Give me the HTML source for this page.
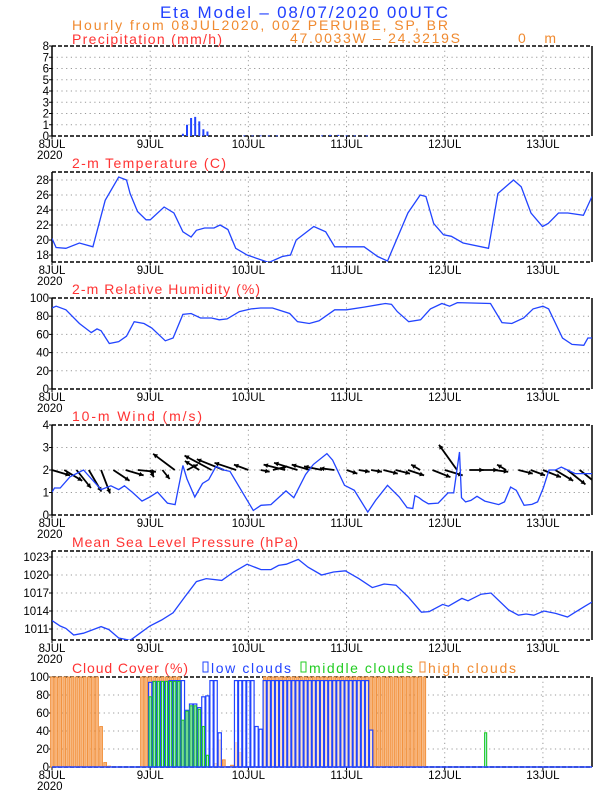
<!DOCTYPE html>
<html><head><meta charset="utf-8"><style>
html,body{margin:0;padding:0;background:#fff;}
svg{display:block;}
text{font-family:"Liberation Sans",sans-serif;}
</style></head><body>
<svg id="chart" width="612" height="792" viewBox="0 0 612 792" xmlns="http://www.w3.org/2000/svg">
<text x="160" y="18" textLength="288" lengthAdjust="spacing" font-size="17" fill="#2040ff">Eta Model – 08/07/2020 00UTC</text>
<text x="72" y="30" textLength="376" lengthAdjust="spacing" font-size="14" fill="#f08a30">Hourly from 08JUL2020, 00Z  PERUIBE, SP, BR</text>
<text x="290" y="43" textLength="170" lengthAdjust="spacing" font-size="14" fill="#f08a30">47.0033W – 24.3219S</text>
<text x="518" y="43" textLength="38" lengthAdjust="spacing" font-size="14" fill="#f08a30">0  m</text>
</svg>
<script>
// ---- data ----
const dayLabels=["8JUL","9JUL","10JUL","11JUL","12JUL","13JUL"];
const precipHours=[32,33,34,35,36,37,38,47,49,51,53,55,66,68,70,72,74,77];
const precipVals=[0.2,1.0,1.6,1.7,1.3,0.6,0.4,0.05,0.05,0.05,0.05,0.05,0.05,0.1,0.1,0.05,0.05,0.05];
const precipTicks=[0,1,2,3,4,5,6,7,8];
const tempHours=[0,1,3.4,6.7,10,13,16.3,18.2,19.1,20.9,23,24,27.4,29.8,32,34,35.3,37.3,39.6,41.1,43,44.9,47.7,53,56.3,58.3,59.7,64,66.9,69.1,72,76.3,79.6,82,87,90,91.4,93.3,95.7,97.6,100.5,106.7,109,112.8,114.7,117.1,119.9,121.3,123.8,126.1,129.9,132];
const tempVals=[20.2,19.0,18.9,19.6,19.1,25.3,28.4,28.0,26.2,23.8,22.7,22.7,24.4,23.6,21.1,20.4,21.3,21.6,21.6,22.0,21.4,18.9,18.0,17.0,17.8,18.0,20.0,21.8,21.1,19.1,19.1,19.1,17.8,17.2,23.6,26.0,25.8,22.2,20.7,20.5,19.6,18.9,26.2,28.0,27.1,23.6,21.8,22.2,23.6,23.6,23.3,25.8];
const tempTicks=[18,20,22,24,26,28];
const rhHours=[0,1,3.4,6.7,9.6,11,12,14,16.3,18.2,20.1,22.5,24.4,27.7,29.6,32,34,36.3,39,40.9,42.8,45.8,48.7,51,53.9,58.1,60,62.9,65.3,69.1,72,76.3,81.5,83,84.4,87.2,90.1,92.5,95.3,97.2,99.1,107.2,110,112.4,115.3,117.6,120,121.4,124.8,127.1,130,131,132];
const rhVals=[89,91,87,72,62,66,64,50,52,58,74,72,67,53,56,82,83,78,78,76,77,85,88,89,89,83,74,72,75,87,87,90,94,93,85,74,76,88,94,91,95,94,73,72,78,88,91,88,56,49,48,56,56];
const rhTicks=[0,20,40,60,80,100];
const windHours=[0,0.6,2,4.4,7.7,12,14.4,16.3,17.7,19.6,22,23.9,25.8,28.2,30.1,32,33,34.9,36.8,38.3,40.1,42,43.5,49.2,51.1,53.5,57.2,59.1,62,63.9,67.2,68.6,71.5,73.9,77.2,79.1,82,84.9,86.8,88.2,88.7,89.7,90.6,92,94.4,96.8,98.2,99.6,100.1,101.1,102.4,103.9,105.8,109.2,110.6,112.1,113.5,115.4,117.3,118.7,120.1,121.5,123.1,124.5,127.9,133.1];
const windVals=[1.02,1.2,1.2,1.7,2.0,1.13,1.3,1.13,1.3,1.02,0.62,0.8,1.02,0.53,0.46,2.2,1.6,0.8,1.4,1.57,2.16,2.0,1.94,0.2,0.43,0.46,1.07,0.77,1.8,2.25,2.73,2.44,1.32,1.1,0.13,0.65,1.32,0.8,0.33,0.29,0.86,0.77,0.65,0.5,0.53,0.98,0.98,2.8,0.77,0.58,0.65,0.83,0.62,0.46,0.58,1.24,1.1,0.43,0.47,0.58,1.2,2.0,2.0,2.13,1.84,1.84];
const windTicks=[0,1,2,3,4];
const arrowHours=[0,3,6,9,12,15,18,21,24,27,30,33,36,39,42,45,48,51,54,57,60,63,66,69,72,75,78,81,84,87,90,93,96,99,102,105,108,111,114,117,120,123,126,129,132];
const arrowU=[1.0,1.0,0.8,0.7,0.5,0.9,1.0,1.0,0.2,0.4,-1.2,0.6,-0.8,-1.5,-1.5,-1.2,-0.8,0.5,0.8,-1.2,-1.3,-1.0,-1.0,-0.8,0.6,0.6,0.6,0.8,0.8,0.9,-0.5,1.0,1.0,-1.0,0.8,0.9,0.8,-0.5,0.8,0.8,1.0,1.0,1.0,1.0,1.0];
const arrowV=[-0.3,-0.6,-1.0,-1.2,-1.3,-0.6,-0.3,-0.1,-0.4,-0.5,0.9,0.3,0.5,0.8,0.6,0.4,0.3,-0.1,0.2,0.3,0.4,0.3,0.2,0.1,-0.2,-0.1,-0.1,-0.2,-0.2,-0.3,0.3,-0.4,-0.3,1.4,0.0,0.0,-0.1,0.3,-0.2,-0.3,-0.4,-0.6,-0.8,-0.8,-0.8];
const presHours=[0,2,3.4,5.3,7.7,12,13.9,16.3,19.1,21.5,23.9,26.8,29.6,32.5,35.3,37.7,41.5,44.4,47.7,51.1,53.5,55.4,57.3,60.2,62.6,65.9,68.8,71.7,75,78.3,81.2,84.1,87,90.3,92.2,95.5,96.9,100.2,101.7,104.9,107.3,111.6,114,115.9,117.8,120.2,123.1,126,127.9,130.3,132];
const presVals=[1012.4,1011.5,1011.1,1010.0,1010.3,1011.4,1010.9,1009.5,1009.1,1010.3,1011.5,1012.5,1013.7,1016.4,1018.9,1019.4,1019.1,1020.5,1021.8,1020.9,1020.9,1021.6,1021.8,1022.6,1021.3,1020.0,1020.5,1020.7,1019.4,1017.9,1018.5,1018.3,1016.4,1013.8,1013.9,1015.1,1014.8,1016.1,1015.7,1016.8,1017.0,1014.2,1013.3,1013.5,1013.3,1014.0,1013.6,1013.0,1013.8,1014.8,1015.5];
const presTicks=[1011,1014,1017,1020,1023];
const cloudHigh=[100,100,100,100,100,100,100,100,100,100,100,100,45,5,1,0,0,0,0,0,0,0,100,100,100,100,100,100,100,100,100,100,0,0,0,0,0,0,0,0,4,30,8,0,2,27,16,0,0,0,0,0,100,100,100,100,100,100,100,100,100,100,100,100,100,100,100,100,100,100,100,100,100,100,100,100,100,100,100,100,100,100,100,100,100,100,100,100,100,100,100,100,0,0,0,0,0,0,0,0,0,0,0,0,0,0,0,0,0,0,0,0,0,0,0,0,0,0,0,0,0,0,0,0,0,0,0,0,0,0,0,0,0];
const cloudLow=[0,0,0,0,0,0,0,0,0,0,0,0,0,0,0,0,0,0,0,0,0,0,0,0,94,95,95,95,95,96,96,96,96,63,70,70,66,78,79,96,96,38,0,0,0,96,96,96,96,96,45,42,96,96,96,96,96,96,96,96,96,96,96,96,96,96,96,96,96,96,96,96,96,96,96,96,96,96,41,0,0,0,0,0,0,0,0,0,0,0,0,0,0,0,0,0,0,0,0,0,0,0,0,0,0,0,0,0,0,0,0,0,0,0,0,0,0,0,0,0,0,0,0,0,0,0,0,0,0,0,0,0,0];
const cloudMid=[0,0,0,0,0,0,0,0,0,0,0,0,0,0,0,0,0,0,0,0,0,0,0,0,78,95,95,95,95,95,95,95,52,62,68,68,64,45,13,0,0,0,0,0,0,0,0,0,0,0,0,0,0,0,0,0,0,0,0,0,0,0,0,0,0,0,0,0,0,0,0,0,0,0,0,0,0,0,0,0,0,0,0,0,0,0,0,0,0,0,0,0,0,0,0,0,0,0,0,0,0,0,0,0,0,0,38,0,0,0,0,0,0,0,0,0,0,0,0,0,0,0,0,0,0,0,0,0,0,0,0,0,0];
const cloudTicks=[0,20,40,60,80,100];

// ---- layout ----
const NS="http://www.w3.org/2000/svg";
const svg=document.getElementById('chart');
const X0=52,X1=592,HMAX=132;
function xs(h){return X0+(X1-X0)*h/HMAX;}
function mk(tag,attrs,parent){const e=document.createElementNS(NS,tag);for(const k in attrs)e.setAttribute(k,attrs[k]);(parent||svg).appendChild(e);return e;}
const BLUE="#2244ff",RED="#ff3333",ORANGE="#f08a30";

function panel(name,title,titleLen,top,bot,ymin,ymax,ticks){
  const g=mk('g',{});
  
  
  const ys=v=>bot-(bot-top)*(v-ymin)/(ymax-ymin);
  if(title){const t=mk('text',{x:72,y:top-4,'font-size':14,fill:RED,textLength:titleLen,lengthAdjust:'spacing'},g);t.textContent=title;
  
  }
  ticks.forEach(v=>{const y=ys(v);if(y>top+1&&y<bot-1){const l=mk('line',{x1:X0,x2:X1,y1:y,y2:y,stroke:'#999','stroke-dasharray':'1.2 3.5','stroke-width':1},g);
    }
    const lb=mk('text',{x:X0-3,y:y+4,'font-size':11.5,'text-anchor':'end',fill:'#000'},g);lb.textContent=v;
    
    mk('line',{x1:X0-3,x2:X0,y1:y,y2:y,stroke:'#000'},g);});
  dayLabels.forEach((d,i)=>{const x=xs(i*24);
    if(i>0){const l=mk('line',{x1:x,x2:x,y1:top,y2:bot,stroke:'#999','stroke-dasharray':'1.2 3.5'},g);
      }
    mk('line',{x1:x,x2:x,y1:bot,y2:bot+3,stroke:'#000'},g);
    const lb=mk('text',{x:x,y:bot+12,'font-size':11.5,'text-anchor':'middle',fill:'#000'},g);lb.textContent=d;
    });
  const yr=mk('text',{x:37,y:bot+23,'font-size':11.5,fill:'#000'},g);yr.textContent='2020';
  
  const fr=mk('g',{},g);
  mk('line',{x1:X0,x2:X0,y1:top,y2:bot,stroke:'#000','stroke-width':1.5},fr);
  mk('line',{x1:X1,x2:X1,y1:top,y2:bot,stroke:'#000','stroke-width':1.5},fr);
  mk('line',{x1:X0,x2:X1,y1:top,y2:top,stroke:'#000','stroke-width':1.5,'stroke-dasharray':'4 2'},fr);
  mk('line',{x1:X0,x2:X1,y1:bot,y2:bot,stroke:'#000','stroke-width':1.5,'stroke-dasharray':'4 2'},fr);
  
  return {g,ys};
}
function line(g,ys,hours,vals,name,top,bot){
  const cid='clip-'+name;
  const cp=mk('clipPath',{id:cid},g);mk('rect',{x:X0,y:top,width:X1-X0,height:bot-top},cp);
  const p=mk('path',{d:hours.map((h,i)=>(i?'L':'M')+xs(h).toFixed(1)+','+ys(vals[i]).toFixed(1)).join(''),fill:'none',stroke:BLUE,'stroke-width':1.3,'clip-path':'url(#'+cid+')'},g);
  
  
}

// Precipitation
let P=panel('precip','',0,46,136,0,8,precipTicks);
precipHours.forEach((h,i)=>{const y=P.ys(precipVals[i]);
  const r=mk('rect',{x:xs(h)-1,y:y,width:2,height:Math.max(0.8,136-y),fill:BLUE},P.g);
  
  });
{const t=mk('text',{x:72,y:44,'font-size':14,fill:RED,textLength:150,lengthAdjust:'spacing'});t.textContent='Precipitation (mm/h)';
 }

// Temperature
let T=panel('temp','2-m Temperature (C)',154,172,262,17.07,29.07,tempTicks);
line(T.g,T.ys,tempHours,tempVals,'temp-line',172,262);

// RH
let R=panel('rh','2-m Relative Humidity (%)',188,298,389,0,100,rhTicks);
line(R.g,R.ys,rhHours,rhVals,'rh-line',298,389);

// Wind
let W=panel('wind','10-m Wind (m/s)',130,425,515,0,4,windTicks);
const AS=18;
const wcp=mk('clipPath',{id:'clip-wind-arrows'},W.g);mk('rect',{x:X0,y:425,width:X1-X0,height:90},wcp);
const arrowsG=mk('g',{'clip-path':'url(#clip-wind-arrows)'},W.g);


arrowHours.forEach((h,i)=>{const x=xs(h),y=W.ys(2);
  const tx=x+arrowU[i]*AS, ty=y-arrowV[i]*AS;
  const ang=Math.atan2(ty-y,tx-x);
  const a=mk('g',{},arrowsG);
  mk('line',{x1:x,y1:y,x2:tx,y2:ty,stroke:'#000','stroke-width':1.8},a);
  mk('path',{d:`M${tx},${ty}L${tx-5*Math.cos(ang-0.5)},${ty-5*Math.sin(ang-0.5)}L${tx-5*Math.cos(ang+0.5)},${ty-5*Math.sin(ang+0.5)}Z`,fill:'#000'},a);
  
  });
line(W.g,W.ys,windHours,windVals,'wind-speed-line',425,515);

// Pressure
let M=panel('mslp','Mean Sea Level Pressure (hPa)',226,551,640,1009.17,1024,presTicks);
line(M.g,M.ys,presHours,presVals,'mslp-line',551,640);

// Cloud
let C=panel('cloud','Cloud Cover (%)',116,677,767,0,100,cloudTicks);
const bw=(X1-X0)/HMAX;
cloudHigh.forEach((v,h)=>{if(v>0){const y=C.ys(v);
  const r=mk('rect',{x:xs(h)-bw*0.35,y:y,width:bw*0.7,height:767-y,fill:'#f8b47a',stroke:ORANGE,'stroke-width':0.8},C.g);
  }});
cloudLow.forEach((v,h)=>{if(v>0){const y=C.ys(v);
  const r=mk('rect',{x:xs(h)-bw*0.4,y:y,width:bw*0.8,height:767-y,fill:'#ffffff','fill-opacity':0.6,stroke:BLUE,'stroke-width':1.2},C.g);
  }});
cloudMid.forEach((v,h)=>{if(v>0){const y=C.ys(v);
  const r=mk('rect',{x:xs(h)-bw*0.25,y:y,width:bw*0.5,height:767-y,fill:'#bfe8ff',stroke:'#22cc22','stroke-width':1.1},C.g);
  }});
mk('line',{x1:X0,x2:X1,y1:767,y2:767,stroke:BLUE,'stroke-width':1.5},C.g);
// legend
[['low clouds',BLUE,203,80],['middle clouds','#22cc22',301,104],['high clouds',ORANGE,420,88]].forEach(([txt,col,x,len])=>{
  const lg=mk('g',{});
  mk('rect',{x:x,y:662,width:5,height:10,fill:'none',stroke:col,'stroke-width':1},lg);
  const t=mk('text',{x:x+8,y:673,'font-size':14,fill:col,textLength:len,lengthAdjust:'spacing'},lg);t.textContent=txt;
  
  });
</script>
</body></html>
